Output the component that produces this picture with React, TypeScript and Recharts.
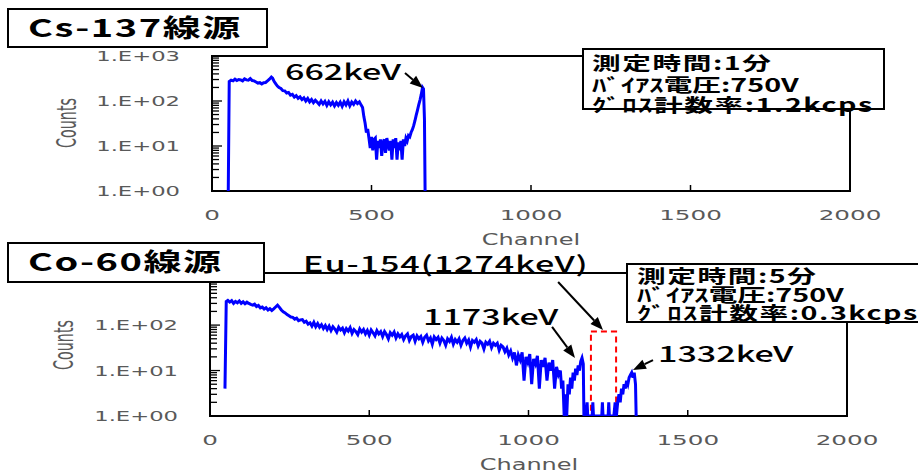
import React from 'react';
import { LineChart, Line, XAxis, YAxis, ReferenceArea, ReferenceLine } from 'recharts';

// Cs-137 spectrum (channel / counts)
const csChannel = [
  51, 54,
  60, 66, 72, 78, 84, 90, 96, 102, 108, 114, 120, 126, 132, 138, 144, 150, 156, 162, 168, 174, 180, 186,
  190, 195, 200, 205, 210,
  216, 222, 228, 234, 240, 246, 252, 258, 264, 270,
  276, 282, 288, 294, 300, 306, 312, 318, 324, 330,
  336, 342, 348, 354, 360, 366, 372, 378, 384, 390,
  396, 402, 408, 414, 420, 426, 432, 438, 444, 450,
  456, 462, 468,
  472, 476, 480, 484, 488, 492, 496, 500, 504, 508,
  512, 516, 520, 524, 528, 532, 536, 540, 544, 548,
  552, 556, 560, 564, 568, 572, 576, 580, 584, 588,
  592, 596, 600, 604, 608, 612, 616, 620, 624, 628,
  632, 636, 640, 644, 648, 652, 656, 660,
  663, 666, 668,
];
const csCount = [
  1, 270,
  290, 280, 305, 285, 300, 295, 280, 310, 295, 290, 315, 285, 280, 265, 250, 255, 240, 255, 258, 280, 305, 340,
  320, 270, 240, 215, 200,
  190, 170, 168, 150, 155, 135, 140, 122, 132, 115,
  124, 108, 118, 100, 114, 96, 108, 92, 104, 94,
  84, 100, 86, 98, 80, 96, 82, 94, 78, 92,
  80, 94, 76, 96, 82, 100, 78, 95, 84, 100,
  88, 96, 80,
  72, 45, 32, 20, 24, 15, 9, 16, 8, 14,
  15, 5, 13, 9, 14, 6, 12, 14, 7, 15,
  11, 8, 13, 5, 14, 9, 15, 5, 12, 8,
  13, 5, 14, 10, 15, 13, 17, 16, 20, 23,
  28, 36, 48, 62, 82, 105, 140, 200,
  185, 40, 1,
];

// Co-60 spectrum (channel / counts)
const coChannel = [
  47, 51, 56,
  62, 68, 74, 80, 86, 92, 98, 104, 110, 116,
  122, 128, 134, 140, 146, 152, 158, 164, 170, 176,
  182, 188, 194, 200, 206, 212, 218, 224, 230, 236,
  242, 248, 254, 260, 266, 272, 278, 284, 290, 296,
  302, 308, 314, 320, 326, 332, 338, 344, 350, 356,
  362, 368, 374, 380, 386, 392, 398, 404, 410, 416,
  422, 428, 434, 440, 446, 452, 458, 464, 470, 476,
  482, 488, 494, 500, 506, 512, 518, 524, 530, 536,
  542, 548, 554, 560, 566, 572, 578, 584, 590, 596,
  602, 608, 614, 620, 626, 632, 638, 644, 650, 656,
  662, 668, 674, 680, 686, 692, 698, 704, 710, 716,
  722, 728, 734, 740, 746, 752, 758, 764, 770, 776,
  782, 788, 794, 800, 806, 812, 818, 824, 830, 836,
  842, 848, 854, 860, 866, 872, 878, 884, 890, 896,
  902, 908, 914, 920, 926, 932, 938, 944, 950, 956,
  962, 968, 974, 980, 986, 992, 998, 1004, 1010, 1016,
  1022, 1028, 1034, 1040, 1046, 1052, 1058, 1064, 1070, 1076,
  1082, 1088, 1094, 1100,
  1104, 1108, 1112, 1116, 1120, 1124, 1128, 1132, 1136, 1140,
  1144, 1148, 1152, 1156, 1160, 1164, 1168, 1172,
  1174, 1180, 1184, 1186, 1200, 1202, 1204, 1230, 1232, 1234,
  1250, 1252, 1254, 1268, 1272, 1276, 1280, 1284, 1288, 1292,
  1296, 1300, 1304, 1308, 1312, 1316, 1320, 1324, 1328, 1332,
  1336, 1338,
];
const coCount = [
  4, 330, 350,
  320, 345, 300, 330, 310, 340, 300, 325, 295, 320,
  300, 285, 275, 290, 255, 270, 240, 250, 225, 240,
  215, 230, 210, 228, 250, 275, 245, 215, 195, 185,
  170, 160, 150, 148, 135, 142, 125, 130, 132, 115,
  122, 105, 112, 95, 115, 92, 108, 90, 102, 84,
  98, 80, 95, 76, 92, 82, 70, 90, 78, 86,
  68, 84, 74, 88, 66, 80, 72, 62, 82, 70,
  80, 64, 76, 60, 78, 68, 58, 76, 64, 72,
  56, 72, 62, 50, 68, 60, 70, 52, 64, 55,
  62, 48, 58, 64, 46, 56, 60, 44, 58, 50,
  56, 42, 54, 60, 45, 52, 38, 55, 48, 54,
  40, 52, 46, 36, 50, 44, 54, 38, 48, 42,
  50, 36, 46, 52, 40, 47, 33, 46, 42, 48,
  35, 44, 40, 30, 42, 38, 44, 32, 40, 36,
  40, 28, 36, 33, 26, 31, 22, 27, 19, 25,
  13, 22, 17, 25, 6, 20, 15, 23, 5, 18,
  14, 21, 4, 17, 12, 19, 6, 15, 10, 17,
  4, 12, 8, 10,
  4, 6, 1, 3, 1, 5, 3, 7, 4, 9,
  6, 11, 8, 13, 10, 16, 19, 14,
  1, 1, 2, 1, 1, 2, 1, 1, 2, 1,
  1, 2, 1, 1, 2, 1, 2, 3, 2, 4,
  3, 5, 4, 6, 5, 7, 8, 9, 7, 9,
  5, 1,
];

const xTicks = [0, 500, 1000, 1500, 2000];
const decades = [1, 10, 100, 1000];
const decadeLabels = ['1.E+00', '1.E+01', '1.E+02', '1.E+03'];
const minorSteps = [2, 3, 4, 5, 6, 7, 8, 9];

// annotation arrows, in data coordinates (channel, counts)
const csArrows = [{ x1: 605, y1: 418, x2: 661, y2: 194 }];
const coArrows = [
  { x1: 1093, y1: 887, x2: 1234, y2: 78 },
  { x1: 1074, y1: 91, x2: 1146, y2: 19 },
  { x1: 1391, y1: 17, x2: 1328, y2: 10.3 },
];
const euWindow = { x1: 1196, x2: 1275, y1: 1, y2: 72 };

const csInfo = ['測定時間:1分', 'ﾊﾞｲｱｽ電圧:750V', 'ｸﾞﾛｽ計数率:1.2kcps'];
const coInfo = ['測定時間:5分', 'ﾊﾞｲｱｽ電圧:750V', 'ｸﾞﾛｽ計数率:0.3kcps'];

const csData = csChannel.map((ch, i) => ({ ch, n: csCount[i] }));
const coData = coChannel.map((ch, i) => ({ ch, n: coCount[i] }));

const yTicks: number[] = [];
decades.forEach((d, i) => {
  yTicks.push(d);
  if (i < decades.length - 1) minorSteps.forEach((m) => yTicks.push(d * m));
});

const GRAY = '#595959';
const JP = '"Noto Sans CJK JP", sans-serif';
const LAT = '"DejaVu Sans", sans-serif';

const XTick = (p: any) => (
  <g>
    <line x1={p.x} y1={p.y} x2={p.x} y2={p.y - 6} stroke="#000" strokeWidth={1.5} />
    <text transform={`translate(${p.x},${p.y + 24}) scale(1.7,1)`} textAnchor="middle" dy="0.36em"
      fontSize={14.5} fontFamily={LAT} fill={GRAY}>{p.payload.value}</text>
  </g>
);

const YTick = (p: any) => {
  const idx = decades.indexOf(p.payload.value);
  const major = idx >= 0;
  const showLabel = major && p.payload.value <= p.labelMax;
  return (
    <g>
      <line x1={p.x} y1={p.y} x2={p.x + (major ? 10 : 7)} y2={p.y} stroke="#000" strokeWidth={1.3} />
      {showLabel && (
        <text transform={`translate(${p.x - 32},${p.y}) scale(1.62,1)`} textAnchor="end" dy="0.36em"
          fontSize={14} fontFamily={LAT} fill={GRAY}>{decadeLabels[idx]}</text>
      )}
    </g>
  );
};

const arrowShape = (p: any) => {
  const { x1, y1, x2, y2 } = p;
  const a = Math.atan2(y2 - y1, x2 - x1);
  const len = 13;
  const half = 5;
  const bx = x2 - len * Math.cos(a);
  const by = y2 - len * Math.sin(a);
  const pts = `${x2},${y2} ${bx - half * Math.sin(a)},${by + half * Math.cos(a)} ${bx + half * Math.sin(a)},${by - half * Math.cos(a)}`;
  return (
    <g>
      <line x1={x1} y1={y1} x2={bx} y2={by} stroke="#000" strokeWidth={2} />
      <polygon points={pts} fill="#000" />
    </g>
  );
};

function Spectrum({ data, height, margin, yMax, labelMax, arrows, window }: any) {
  return (
    <LineChart width={918} height={height} data={data} margin={margin}>
      <XAxis dataKey="ch" type="number" domain={[0, 2000]} ticks={xTicks} interval={0} height={1}
        tickSize={0} tickMargin={0} axisLine={false} tick={(p: any) => <XTick {...p} />} />
      <YAxis type="number" scale="log" domain={[1, yMax]} allowDataOverflow ticks={yTicks} interval={0}
        width={1} tickSize={0} tickMargin={0} axisLine={false} tick={(p: any) => <YTick {...p} labelMax={labelMax} />} />
      <Line type="linear" dataKey="n" stroke="#0000ff" strokeWidth={3} dot={false} isAnimationActive={false} />
      {window && (
        <ReferenceArea x1={window.x1} x2={window.x2} y1={window.y1} y2={window.y2} fill="none"
          stroke="#ff0000" strokeWidth={2} strokeDasharray="6 4" />
      )}
      <ReferenceArea x1={0} x2={2000} y1={1} y2={yMax} fill="none" stroke="#000" strokeWidth={2} />
      {arrows.map((a: any, i: number) => (
        <ReferenceLine key={i} segment={[{ x: a.x1, y: a.y1 }, { x: a.x2, y: a.y2 }]} ifOverflow="visible" shape={arrowShape} />
      ))}
    </LineChart>
  );
}

const Txt = ({ left, top, size, weight = 400, spacing = 0, scale = 1.55, lh, children }: any) => (
  <div style={{
    position: 'absolute', left, top, fontFamily: JP, fontSize: size, fontWeight: weight, lineHeight: `${lh ?? size}px`,
    letterSpacing: spacing, whiteSpace: 'nowrap', transform: `scaleX(${scale})`, transformOrigin: '0 0', color: '#000',
  }}>{children}</div>
);

const Box = ({ left, top, width, height }: any) => (
  <div style={{ position: 'absolute', left, top, width, height, boxSizing: 'border-box', border: '2px solid #000', background: '#fff' }} />
);

const AxisText = ({ cx, cy, size, scale = 1.6, rotate = false, children }: any) => (
  <div style={{
    position: 'absolute', left: cx, top: cy, fontFamily: LAT, fontSize: size, lineHeight: 1, color: GRAY, whiteSpace: 'nowrap',
    transform: `translate(-50%,-50%) scaleX(${scale})${rotate ? ' rotate(-90deg)' : ''}`,
  }}>{children}</div>
);

const infoSpacing = [1, 0, 1];

const Info = ({ left, tops, lines }: any) => (
  <>
    {lines.map((t: string, i: number) => (
      <Txt key={i} left={left} top={tops[i] + 0.8} size={18.5} lh={17} weight={700} spacing={infoSpacing[i]}>{t}</Txt>
    ))}
  </>
);

export default function App() {
  return (
    <div style={{ position: 'absolute', left: 0, top: 0, width: 918, height: 475, overflow: 'hidden', background: '#fff' }}>
      <div style={{ position: 'absolute', left: 0, top: 0 }}>
        <Spectrum data={csData} height={250} margin={{ top: 56, right: 68, bottom: 58, left: 211 }} yMax={1000}
          labelMax={1000} arrows={csArrows} />
      </div>
      <div style={{ position: 'absolute', left: 0, top: 230 }}>
        <Spectrum data={coData} height={245} margin={{ top: 43, right: 71, bottom: 58, left: 209 }} yMax={1400}
          labelMax={100} arrows={coArrows} window={euWindow} />
      </div>

      <AxisText cx={531} cy={240} size={15}>Channel</AxisText>
      <AxisText cx={529} cy={465} size={15}>Channel</AxisText>
      <AxisText cx={67} cy={123} size={14.3} scale={1.9} rotate>Counts</AxisText>
      <AxisText cx={64} cy={345} size={14.3} scale={1.9} rotate>Counts</AxisText>

      <Box left={7} top={8} width={261} height={40} />
      <Txt left={28} top={15} size={24.5} weight={700} spacing={1}>Cs-137線源</Txt>
      <Box left={7} top={242} width={258} height={41} />
      <Txt left={28} top={249} size={24.5} weight={700} spacing={1}>Co-60線源</Txt>

      <Txt left={285} top={59} size={22} weight={500}>662keV</Txt>
      <Txt left={303} top={250.5} size={22} weight={500} spacing={0.6}>Eu-154(1274keV)</Txt>
      <Txt left={423} top={303.5} size={22} weight={500}>1173keV</Txt>
      <Txt left={658} top={340.5} size={22} weight={500}>1332keV</Txt>

      <Box left={582} top={48} width={303} height={62} />
      <Info left={592} tops={[53, 75, 95]} lines={csInfo} />

      <Box left={626} top={263} width={320} height={60} />
      <Info left={637} tops={[266.5, 285, 303]} lines={coInfo} />
    </div>
  );
}
